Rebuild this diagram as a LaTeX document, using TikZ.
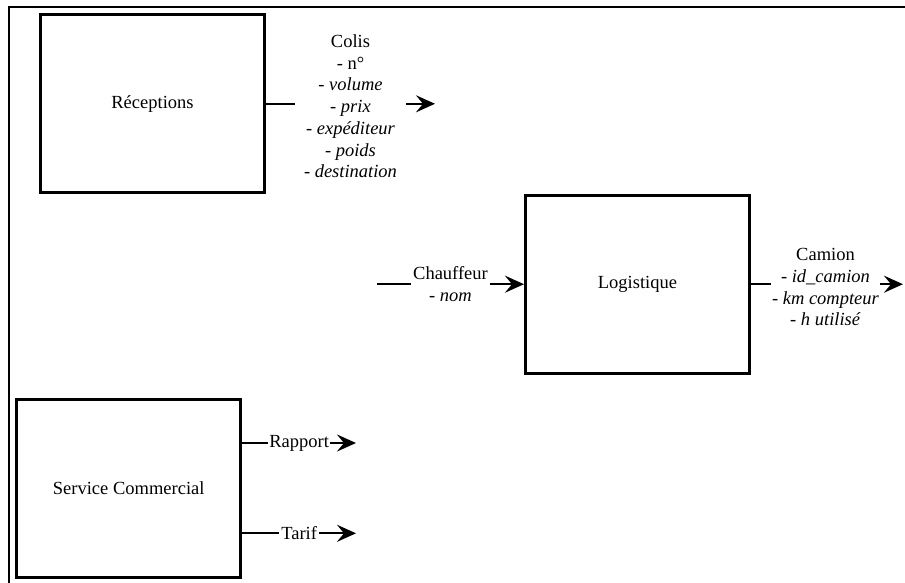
\documentclass[tikz,border=0pt]{standalone}
\usepackage{fontspec}
\setmainfont{Liberation Serif}
\usetikzlibrary{arrows.meta}

\begin{document}
\begin{tikzpicture}[
  x=1pt, y=-1pt,
  every node/.style={font=\fontsize{18.5}{21.7}\selectfont},
  procbox/.style={draw, line width=3pt, minimum width=224pt,
    minimum height=178pt, inner sep=0pt},
  flowlbl/.style={fill=white, align=center, inner xsep=3pt, inner ysep=0pt},
  arrow/.style={-{Stealth[length=19pt, width=17pt, inset=7pt]}, line width=2.3pt},
  frame/.style={line width=2.2pt, line join=miter}
]
\useasboundingbox (0,0) rectangle (905,583);
\draw[frame] (9,583) -- (9,7) -- (905,7);

\node (recep) [procbox] at (152.5,103.8) {Réceptions};
\node (logi) [procbox] at (637.5,284.2) {Logistique};
\node (serv) [procbox] at (128.7,488.5) {Service Commercial};

\coordinate (colistip) at (435,103.8);
\coordinate (chstart) at (377,284.2);
\coordinate (camtip) at (903,284.2);
\coordinate (raptip) at (356,443);
\coordinate (tartip) at (356,533.3);

\draw[arrow] (recep.east) -- node[flowlbl, inner xsep=9pt, yshift=-2.5pt]
  {Colis\\- n°\\\textit{- volume}\\\textit{- prix}\\\textit{- expéditeur}\\
   \textit{- poids}\\\textit{- destination}} (colistip);
\draw[arrow] (chstart) -- node[flowlbl, inner xsep=2pt]
  {Chauffeur\\\textit{- nom}} (logi.west);
\draw[arrow] (logi.east) -- node[flowlbl, pos=0.49, yshift=-3pt, inner xsep=1pt]
  {Camion\\\textit{- id\_camion}\\\textit{- km compteur}\\\textit{- h utilisé}} (camtip);
\draw[arrow] (serv.east |- raptip) -- node[flowlbl, inner xsep=1.5pt] {Rapport} (raptip);
\draw[arrow] (serv.east |- tartip) -- node[flowlbl, inner xsep=2pt] {Tarif} (tartip);
\end{tikzpicture}
\end{document}
